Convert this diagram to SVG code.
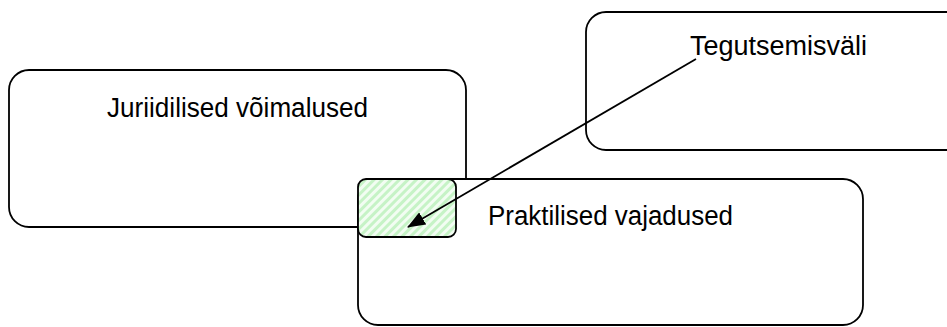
<svg xmlns="http://www.w3.org/2000/svg" width="947" height="327" viewBox="0 0 947 327">
<defs>
<style>
.box{fill:#ffffff;stroke:#000000;stroke-width:1.8}
.lbl{font-family:"Liberation Sans",Arial,sans-serif;font-size:27px;fill:#000000}
.conn{stroke:#000000;stroke-width:1.8;fill:none}
</style>
<pattern id="hatch" patternUnits="userSpaceOnUse" width="6" height="6" patternTransform="rotate(45)">
<rect width="6" height="6" fill="#f2fdf2"/>
<rect width="3" height="6" fill="#c6f3c6"/>
</pattern>
<marker id="arr" markerWidth="10" markerHeight="10" refX="9" refY="5" orient="auto" markerUnits="userSpaceOnUse" viewBox="0 0 10 10">
<path d="M0,0 L10,5 L0,10 z" fill="#000000"/>
</marker>
<marker id="arrow" markerWidth="18" markerHeight="14" refX="17" refY="7" orient="auto" markerUnits="userSpaceOnUse">
<path d="M0,0 L18,7 L0,14 z" fill="#000000"/>
</marker>
</defs>
<rect width="947" height="327" fill="#ffffff"/>
<g id="node-tegutsemisvali-box">
<rect class="box" x="586" y="12" width="380" height="138" rx="20" ry="20"/>
</g>
<g id="node-juriidilised">
<rect class="box" x="9" y="70" width="457" height="157" rx="20" ry="20"/>
<text class="lbl" x="107" y="117" textLength="261" lengthAdjust="spacingAndGlyphs">Juriidilised võimalused</text>
</g>
<g id="node-praktilised">
<rect class="box" x="358" y="179" width="505" height="146" rx="20" ry="20"/>
<text class="lbl" x="488" y="225" textLength="245" lengthAdjust="spacingAndGlyphs">Praktilised vajadused</text>
</g>
<g id="node-overlap">
<rect x="358" y="179" width="98" height="58" rx="8" ry="8" fill="url(#hatch)" stroke="#000000" stroke-width="1.8"/>
</g>
<g id="node-tegutsemisvali-label">
<text class="lbl" x="690" y="55" textLength="177" lengthAdjust="spacingAndGlyphs">Tegutsemisväli</text>
</g>
<g id="connectors">
<line class="conn" x1="696" y1="59" x2="408" y2="227" marker-end="url(#arrow)"/>
</g>
</svg>
